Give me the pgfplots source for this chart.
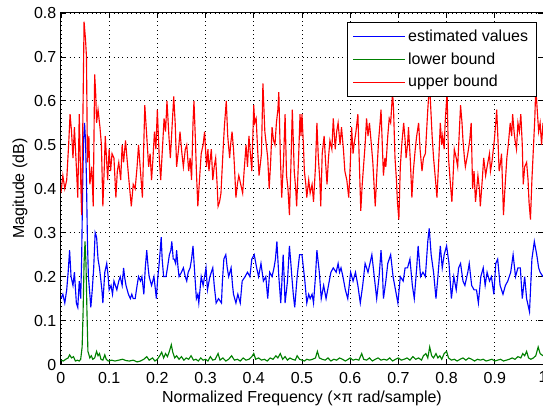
\documentclass[border=0pt]{standalone}
\usepackage{fontspec}
\setmainfont{Liberation Sans}
\usepackage{pgfplots}
\pgfplotsset{compat=1.18}
\usetikzlibrary{calc}

\definecolor{mblue}{RGB}{0,0,255}
\definecolor{mgreen}{RGB}{0,128,0}
\definecolor{mred}{RGB}{255,0,0}

\begin{document}
\begin{tikzpicture}
\begin{axis}[
    scale only axis,
    width=362pt, height=264pt,
    xmin=0, xmax=1, ymin=0, ymax=0.8,
    xtick={0,0.1,...,1.0},
    ytick={0,0.1,...,0.8},
    xticklabels={0,0.1,0.2,0.3,0.4,0.5,0.6,0.7,0.8,0.9,1},
    yticklabels={0,0.1,0.2,0.3,0.4,0.5,0.6,0.7,0.8},
    tick align=inside,
    xtick pos=both, ytick pos=both,
    major tick length=3.75pt,
    tick style={black, line width=0.6pt},
    axis line style={black, line width=0.75pt},
    grid=major,
    major grid style={black, line width=0.6pt, dash pattern=on 0.7pt off 2.6pt},
    tick label style={font=\fontsize{12}{14}\selectfont},
    xticklabel style={yshift=-2pt},
    /pgf/number format/assume math mode=true,
    xlabel={Normalized Frequency (×π rad/sample)},
    ylabel={Magitude (dB)},
    label style={font=\fontsize{12}{14}\selectfont},
    xlabel style={at={(axis description cs:0.5,-0.097)}, anchor=center},
    ylabel style={at={(axis description cs:-0.085,0.5)}, anchor=center},
    legend style={at={(axis description cs:1,1)}, anchor=north east,
        xshift=-5pt, yshift=-6.75pt, fill=white,
        font=\fontsize{12}{14}\selectfont,
        row sep=3pt, inner xsep=4pt, inner ysep=3.5pt,
        legend cell align=left},
    legend image code/.code={\draw[#1] (0pt,0pt) -- (39pt,0pt);},
    every axis plot/.append style={line width=0.85pt, mark=none},
]
\addplot[mblue] coordinates {
(0,0.15) (0.004,0.16) (0.008,0.14) (0.012,0.17) (0.015,0.21) (0.018,0.26) (0.021,0.20) (0.025,0.18) (0.028,0.21) (0.032,0.14) (0.035,0.13) (0.038,0.19) (0.041,0.15) (0.043,0.24) (0.045,0.40) (0.047,0.51) (0.049,0.55) (0.051,0.51) (0.053,0.42) (0.055,0.28) (0.057,0.20) (0.060,0.16) (0.062,0.13) (0.065,0.17) (0.068,0.22) (0.071,0.30) (0.074,0.29) (0.077,0.24) (0.080,0.22) (0.082,0.20) (0.085,0.17) (0.087,0.14) (0.091,0.21) (0.095,0.23) (0.098,0.20) (0.100,0.17) (0.104,0.18) (0.107,0.16) (0.110,0.19) (0.113,0.18) (0.116,0.17) (0.120,0.19) (0.123,0.20) (0.127,0.18) (0.130,0.22) (0.132,0.20) (0.135,0.18) (0.140,0.16) (0.144,0.15) (0.147,0.16) (0.150,0.15) (0.154,0.15) (0.158,0.18) (0.161,0.20) (0.165,0.19) (0.168,0.20) (0.172,0.16) (0.175,0.22) (0.178,0.26) (0.181,0.22) (0.183,0.20) (0.188,0.18) (0.193,0.20) (0.196,0.17) (0.198,0.15) (0.201,0.20) (0.203,0.22) (0.206,0.26) (0.208,0.29) (0.210,0.24) (0.213,0.20) (0.218,0.20) (0.221,0.22) (0.225,0.25) (0.228,0.26) (0.230,0.28) (0.233,0.24) (0.235,0.24) (0.238,0.23) (0.240,0.26) (0.243,0.22) (0.245,0.20) (0.250,0.21) (0.254,0.22) (0.258,0.20) (0.261,0.19) (0.264,0.21) (0.268,0.22) (0.271,0.24) (0.274,0.27) (0.278,0.20) (0.281,0.15) (0.284,0.16) (0.286,0.14) (0.291,0.20) (0.295,0.18) (0.298,0.20) (0.301,0.22) (0.304,0.17) (0.309,0.20) (0.315,0.22) (0.318,0.18) (0.322,0.14) (0.327,0.15) (0.333,0.14) (0.335,0.19) (0.338,0.24) (0.342,0.25) (0.345,0.22) (0.348,0.20) (0.353,0.22) (0.356,0.18) (0.358,0.16) (0.363,0.14) (0.367,0.16) (0.372,0.14) (0.376,0.19) (0.382,0.20) (0.387,0.21) (0.392,0.20) (0.396,0.24) (0.401,0.25) (0.406,0.22) (0.410,0.20) (0.415,0.23) (0.420,0.19) (0.425,0.20) (0.429,0.15) (0.433,0.21) (0.438,0.20) (0.442,0.22) (0.445,0.24) (0.448,0.28) (0.452,0.20) (0.456,0.14) (0.458,0.18) (0.461,0.25) (0.463,0.20) (0.465,0.14) (0.470,0.19) (0.474,0.27) (0.477,0.23) (0.479,0.20) (0.482,0.16) (0.485,0.13) (0.490,0.20) (0.495,0.25) (0.500,0.25) (0.503,0.22) (0.506,0.19) (0.510,0.14) (0.514,0.16) (0.517,0.15) (0.521,0.16) (0.524,0.14) (0.528,0.20) (0.531,0.26) (0.534,0.23) (0.536,0.21) (0.540,0.15) (0.545,0.18) (0.550,0.15) (0.555,0.18) (0.560,0.21) (0.565,0.22) (0.571,0.21) (0.575,0.23) (0.578,0.21) (0.581,0.22) (0.585,0.20) (0.590,0.17) (0.595,0.15) (0.598,0.18) (0.601,0.21) (0.606,0.19) (0.611,0.21) (0.616,0.18) (0.621,0.14) (0.626,0.18) (0.631,0.23) (0.637,0.21) (0.641,0.23) (0.645,0.25) (0.650,0.20) (0.655,0.15) (0.660,0.20) (0.664,0.26) (0.667,0.21) (0.669,0.15) (0.674,0.19) (0.678,0.23) (0.684,0.25) (0.689,0.20) (0.694,0.17) (0.699,0.14) (0.704,0.20) (0.710,0.19) (0.714,0.22) (0.719,0.22) (0.724,0.24) (0.729,0.18) (0.733,0.15) (0.738,0.22) (0.741,0.27) (0.746,0.20) (0.751,0.21) (0.756,0.20) (0.761,0.28) (0.764,0.31) (0.768,0.25) (0.773,0.21) (0.778,0.15) (0.782,0.20) (0.787,0.27) (0.791,0.22) (0.795,0.25) (0.800,0.27) (0.805,0.23) (0.810,0.15) (0.815,0.20) (0.820,0.17) (0.825,0.22) (0.829,0.23) (0.834,0.19) (0.838,0.18) (0.844,0.21) (0.847,0.23) (0.852,0.18) (0.857,0.17) (0.862,0.17) (0.866,0.14) (0.871,0.20) (0.876,0.22) (0.880,0.18) (0.884,0.21) (0.889,0.19) (0.893,0.20) (0.898,0.16) (0.902,0.23) (0.906,0.24) (0.911,0.18) (0.917,0.16) (0.922,0.18) (0.927,0.19) (0.933,0.21) (0.938,0.25) (0.943,0.20) (0.948,0.22) (0.953,0.22) (0.957,0.15) (0.962,0.20) (0.966,0.15) (0.972,0.12) (0.977,0.24) (0.982,0.28) (0.987,0.25) (0.991,0.22) (0.994,0.21) (1.000,0.20)
};
\addlegendentry{estimated values}
\addplot[mgreen] coordinates {
(0,0.010) (0.005,0.008) (0.010,0.012) (0.015,0.015) (0.018,0.022) (0.022,0.015) (0.026,0.018) (0.030,0.008) (0.034,0.010) (0.038,0.008) (0.041,0.012) (0.044,0.04) (0.046,0.12) (0.048,0.23) (0.050,0.28) (0.052,0.23) (0.054,0.12) (0.056,0.03) (0.060,0.015) (0.063,0.020) (0.066,0.012) (0.070,0.015) (0.074,0.030) (0.077,0.020) (0.080,0.025) (0.083,0.012) (0.087,0.010) (0.091,0.022) (0.094,0.012) (0.098,0.008) (0.105,0.010) (0.112,0.008) (0.120,0.010) (0.128,0.012) (0.135,0.009) (0.142,0.008) (0.150,0.010) (0.158,0.006) (0.165,0.008) (0.172,0.012) (0.178,0.018) (0.183,0.010) (0.190,0.015) (0.195,0.008) (0.200,0.012) (0.205,0.020) (0.209,0.028) (0.213,0.015) (0.217,0.025) (0.221,0.018) (0.225,0.030) (0.229,0.045) (0.232,0.028) (0.236,0.015) (0.240,0.020) (0.245,0.012) (0.250,0.018) (0.255,0.010) (0.260,0.015) (0.265,0.012) (0.270,0.020) (0.275,0.010) (0.280,0.012) (0.285,0.008) (0.290,0.015) (0.295,0.010) (0.300,0.012) (0.305,0.008) (0.310,0.018) (0.315,0.010) (0.320,0.012) (0.326,0.025) (0.330,0.010) (0.336,0.015) (0.342,0.008) (0.348,0.012) (0.354,0.020) (0.360,0.010) (0.366,0.012) (0.372,0.008) (0.378,0.015) (0.384,0.010) (0.390,0.012) (0.396,0.018) (0.400,0.025) (0.404,0.012) (0.410,0.015) (0.416,0.010) (0.422,0.012) (0.428,0.008) (0.434,0.015) (0.440,0.012) (0.446,0.020) (0.450,0.015) (0.455,0.025) (0.460,0.012) (0.465,0.018) (0.470,0.010) (0.475,0.015) (0.480,0.012) (0.486,0.010) (0.490,0.020) (0.495,0.012) (0.500,0.010) (0.505,0.008) (0.510,0.012) (0.516,0.010) (0.522,0.012) (0.528,0.015) (0.532,0.030) (0.536,0.015) (0.542,0.012) (0.548,0.010) (0.554,0.015) (0.560,0.008) (0.566,0.012) (0.572,0.010) (0.578,0.015) (0.584,0.012) (0.590,0.008) (0.596,0.012) (0.600,0.015) (0.606,0.010) (0.612,0.012) (0.618,0.010) (0.624,0.025) (0.628,0.012) (0.634,0.010) (0.640,0.015) (0.646,0.008) (0.652,0.012) (0.658,0.015) (0.664,0.010) (0.670,0.012) (0.676,0.010) (0.682,0.015) (0.688,0.008) (0.694,0.012) (0.700,0.015) (0.706,0.010) (0.712,0.012) (0.718,0.015) (0.724,0.010) (0.730,0.018) (0.736,0.012) (0.742,0.015) (0.748,0.010) (0.752,0.020) (0.757,0.025) (0.761,0.015) (0.765,0.040) (0.769,0.020) (0.773,0.015) (0.778,0.025) (0.782,0.015) (0.786,0.020) (0.790,0.012) (0.795,0.025) (0.800,0.030) (0.804,0.015) (0.810,0.010) (0.816,0.012) (0.822,0.008) (0.828,0.012) (0.834,0.015) (0.840,0.010) (0.846,0.015) (0.852,0.012) (0.858,0.008) (0.864,0.012) (0.870,0.010) (0.876,0.012) (0.882,0.008) (0.888,0.010) (0.894,0.012) (0.900,0.008) (0.906,0.010) (0.912,0.012) (0.918,0.008) (0.924,0.010) (0.930,0.012) (0.936,0.015) (0.942,0.012) (0.948,0.018) (0.954,0.015) (0.958,0.025) (0.962,0.020) (0.966,0.030) (0.970,0.015) (0.975,0.012) (0.980,0.015) (0.985,0.020) (0.990,0.040) (0.994,0.025) (1.000,0.020)
};
\addlegendentry{lower bound}
\addplot[mred] coordinates {
(0,0.39) (0.004,0.43) (0.008,0.40) (0.012,0.42) (0.016,0.50) (0.019,0.57) (0.022,0.53) (0.025,0.47) (0.028,0.54) (0.032,0.45) (0.035,0.38) (0.038,0.57) (0.041,0.42) (0.043,0.34) (0.046,0.60) (0.048,0.78) (0.051,0.74) (0.053,0.70) (0.055,0.46) (0.058,0.52) (0.060,0.41) (0.064,0.45) (0.067,0.36) (0.070,0.66) (0.072,0.62) (0.074,0.55) (0.077,0.58) (0.081,0.54) (0.084,0.50) (0.087,0.36) (0.090,0.45) (0.092,0.52) (0.095,0.46) (0.097,0.42) (0.100,0.49) (0.103,0.44) (0.106,0.48) (0.110,0.47) (0.114,0.38) (0.117,0.44) (0.120,0.46) (0.124,0.42) (0.127,0.50) (0.130,0.46) (0.134,0.51) (0.137,0.47) (0.141,0.42) (0.146,0.36) (0.150,0.41) (0.154,0.40) (0.158,0.45) (0.161,0.50) (0.165,0.44) (0.169,0.38) (0.174,0.59) (0.178,0.52) (0.182,0.45) (0.185,0.48) (0.188,0.42) (0.191,0.47) (0.194,0.53) (0.197,0.49) (0.200,0.58) (0.204,0.47) (0.207,0.42) (0.211,0.50) (0.214,0.56) (0.217,0.53) (0.220,0.60) (0.224,0.52) (0.227,0.47) (0.231,0.55) (0.234,0.61) (0.237,0.55) (0.240,0.45) (0.244,0.49) (0.247,0.53) (0.251,0.48) (0.254,0.45) (0.258,0.49) (0.261,0.50) (0.265,0.44) (0.268,0.47) (0.271,0.42) (0.274,0.55) (0.276,0.60) (0.279,0.51) (0.281,0.44) (0.284,0.36) (0.288,0.43) (0.291,0.48) (0.295,0.50) (0.298,0.53) (0.302,0.45) (0.305,0.49) (0.307,0.44) (0.310,0.47) (0.312,0.49) (0.315,0.42) (0.318,0.45) (0.321,0.47) (0.324,0.41) (0.326,0.36) (0.329,0.37) (0.332,0.39) (0.336,0.48) (0.339,0.54) (0.343,0.60) (0.346,0.52) (0.350,0.47) (0.352,0.50) (0.355,0.53) (0.358,0.49) (0.360,0.45) (0.363,0.38) (0.366,0.41) (0.369,0.43) (0.373,0.41) (0.377,0.39) (0.380,0.44) (0.384,0.50) (0.387,0.45) (0.390,0.52) (0.393,0.48) (0.396,0.44) (0.400,0.59) (0.402,0.55) (0.405,0.56) (0.408,0.49) (0.411,0.43) (0.414,0.46) (0.416,0.48) (0.419,0.64) (0.423,0.53) (0.426,0.50) (0.429,0.47) (0.432,0.40) (0.435,0.46) (0.438,0.54) (0.441,0.51) (0.444,0.50) (0.447,0.55) (0.450,0.58) (0.452,0.62) (0.455,0.48) (0.458,0.38) (0.462,0.47) (0.465,0.57) (0.468,0.43) (0.471,0.40) (0.474,0.34) (0.477,0.45) (0.480,0.58) (0.482,0.51) (0.484,0.44) (0.487,0.40) (0.489,0.36) (0.493,0.47) (0.496,0.57) (0.498,0.52) (0.500,0.57) (0.503,0.50) (0.505,0.44) (0.508,0.41) (0.510,0.38) (0.514,0.42) (0.517,0.39) (0.521,0.41) (0.524,0.37) (0.528,0.45) (0.531,0.55) (0.534,0.47) (0.537,0.42) (0.539,0.36) (0.542,0.48) (0.546,0.52) (0.549,0.46) (0.552,0.41) (0.555,0.47) (0.558,0.51) (0.562,0.49) (0.565,0.56) (0.569,0.49) (0.572,0.53) (0.575,0.55) (0.579,0.50) (0.582,0.54) (0.586,0.49) (0.589,0.44) (0.593,0.42) (0.597,0.38) (0.600,0.45) (0.603,0.54) (0.606,0.48) (0.608,0.50) (0.612,0.53) (0.616,0.57) (0.619,0.46) (0.622,0.35) (0.625,0.41) (0.627,0.44) (0.631,0.50) (0.634,0.56) (0.637,0.52) (0.640,0.55) (0.644,0.50) (0.647,0.46) (0.650,0.40) (0.652,0.36) (0.656,0.45) (0.659,0.51) (0.662,0.55) (0.664,0.58) (0.667,0.49) (0.669,0.43) (0.672,0.47) (0.674,0.45) (0.678,0.52) (0.681,0.56) (0.684,0.55) (0.688,0.62) (0.690,0.58) (0.693,0.47) (0.696,0.42) (0.698,0.37) (0.701,0.33) (0.704,0.45) (0.707,0.50) (0.711,0.55) (0.714,0.51) (0.716,0.47) (0.719,0.50) (0.721,0.54) (0.725,0.46) (0.728,0.38) (0.731,0.44) (0.735,0.49) (0.738,0.52) (0.742,0.55) (0.745,0.49) (0.749,0.44) (0.752,0.47) (0.756,0.48) (0.758,0.52) (0.761,0.58) (0.764,0.63) (0.766,0.61) (0.770,0.52) (0.773,0.47) (0.777,0.42) (0.780,0.38) (0.784,0.47) (0.787,0.55) (0.790,0.50) (0.792,0.52) (0.795,0.49) (0.797,0.55) (0.801,0.62) (0.804,0.47) (0.808,0.41) (0.811,0.37) (0.814,0.44) (0.816,0.49) (0.820,0.47) (0.823,0.45) (0.826,0.52) (0.829,0.59) (0.832,0.55) (0.834,0.51) (0.837,0.47) (0.839,0.45) (0.844,0.48) (0.848,0.51) (0.851,0.55) (0.854,0.40) (0.857,0.44) (0.860,0.37) (0.865,0.43) (0.868,0.40) (0.870,0.36) (0.874,0.42) (0.877,0.47) (0.881,0.43) (0.884,0.45) (0.889,0.48) (0.891,0.44) (0.894,0.46) (0.899,0.51) (0.902,0.55) (0.904,0.58) (0.907,0.50) (0.909,0.44) (0.912,0.46) (0.914,0.48) (0.918,0.34) (0.921,0.40) (0.925,0.47) (0.928,0.50) (0.932,0.55) (0.935,0.52) (0.937,0.57) (0.940,0.53) (0.942,0.51) (0.945,0.49) (0.948,0.55) (0.951,0.53) (0.954,0.57) (0.957,0.50) (0.959,0.41) (0.962,0.45) (0.966,0.46) (0.969,0.42) (0.971,0.37) (0.974,0.33) (0.977,0.42) (0.980,0.49) (0.983,0.56) (0.985,0.63) (0.988,0.58) (0.991,0.53) (0.994,0.55) (0.997,0.50) (1.000,0.55)
};
\addlegendentry{upper bound}
\end{axis}
\pgfresetboundingbox
\path[use as bounding box] ($(current axis.south west)+(-45.75pt,-34.5pt)$) rectangle ($(current axis.north east)+(0pt,9.75pt)$);
\end{tikzpicture}
\end{document}
